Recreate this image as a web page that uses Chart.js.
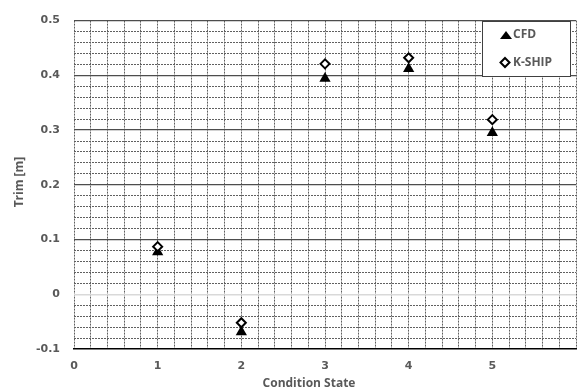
<!DOCTYPE html>
<html>
<head>
<meta charset="utf-8">
<script src="https://cdn.jsdelivr.net/npm/chart.js"></script>
<style>
html,body{margin:0;padding:0;background:#fff;}
#wrap{width:587px;height:392px;position:relative;}
</style>
</head>
<body>
<div id="wrap"><canvas id="c" width="587" height="392"></canvas></div>
<script>
// ---- data ----
const conditionStates = [1, 2, 3, 4, 5];
const cfdTrim = [0.077, -0.069, 0.394, 0.412, 0.295];
const kshipTrim = [0.087, -0.052, 0.421, 0.432, 0.319];
const seriesNames = ['CFD', 'K-SHIP'];
const xTickLabels = ['0', '1', '2', '3', '4', '5'];
const yTickLabels = ['-0.1', '0', '0.1', '0.2', '0.3', '0.4', '0.5'];
const xTitle = 'Condition State';
const yTitle = 'Trim [m]';

const toPts = (xs, ys) => xs.map((x, i) => ({x: x, y: ys[i]}));
const isMult = (v, step) => Math.abs(v / step - Math.round(v / step)) < 1e-6;

const TEXT = '#595959';
const GRID = '#606060';
const tickFont = {family: 'DejaVu Sans', size: 11, weight: 'bold'};

const overlay = {
  id: 'overlay',
  afterDraw(chart) {
    const ctx = chart.ctx;
    ctx.save();
    // axis titles
    ctx.fillStyle = TEXT;
    ctx.font = 'bold 12px "Open Sans"';
    ctx.textAlign = 'center';
    ctx.textBaseline = 'middle';
    ctx.fillText(xTitle, 309, 384);
    ctx.save();
    ctx.translate(20, 182);
    ctx.rotate(-Math.PI / 2);
    ctx.fillText(yTitle, 0, 0);
    ctx.restore();
    // legend box
    ctx.fillStyle = '#fff';
    ctx.fillRect(482.5, 21.5, 88, 55);
    ctx.strokeStyle = '#404040';
    ctx.lineWidth = 1;
    ctx.strokeRect(482.5, 21.5, 88, 55);
    // triangle marker
    ctx.fillStyle = '#000';
    ctx.beginPath();
    ctx.moveTo(506, 31);
    ctx.lineTo(512, 39);
    ctx.lineTo(500, 39);
    ctx.closePath();
    ctx.fill();
    // diamond marker
    ctx.beginPath();
    ctx.moveTo(505, 58);
    ctx.lineTo(509.5, 62.5);
    ctx.lineTo(505, 67);
    ctx.lineTo(500.5, 62.5);
    ctx.closePath();
    ctx.fillStyle = '#fff';
    ctx.fill();
    ctx.lineWidth = 2;
    ctx.strokeStyle = '#000';
    ctx.stroke();
    ctx.fillStyle = TEXT;
    ctx.font = 'bold 12px "Open Sans"';
    ctx.textAlign = 'left';
    ctx.fillText(seriesNames[0], 513, 35);
    ctx.fillText(seriesNames[1], 513, 62.5);
    ctx.restore();
  }
};

new Chart(document.getElementById('c'), {
  type: 'scatter',
  data: {
    datasets: [
      {
        label: seriesNames[0],
        data: toPts(conditionStates, cfdTrim),
        pointStyle: 'triangle',
        pointRadius: 6.5,
        pointHoverRadius: 6.5,
        backgroundColor: '#000',
        borderColor: '#000',
        borderWidth: 0,
        order: 2
      },
      {
        label: seriesNames[1],
        data: toPts(conditionStates, kshipTrim),
        pointStyle: 'rectRot',
        pointRadius: 4.5,
        pointHoverRadius: 4.5,
        backgroundColor: '#fff',
        borderColor: '#000',
        borderWidth: 2,
        order: 1
      }
    ]
  },
  options: {
    responsive: false,
    animation: false,
    events: [],
    layout: {padding: {top: 14, right: 1, left: 0, bottom: 0}},
    plugins: {legend: {display: false}, tooltip: {enabled: false}},
    scales: {
      x: {
        type: 'linear',
        min: 0, max: 6,
        afterFit: s => { s.height = 43; },
        ticks: {
          stepSize: 0.2,
          autoSkip: false,
          maxRotation: 0,
          padding: 11,
          color: TEXT,
          font: tickFont,
          callback: v => {
            const r = Math.round(v * 1000) / 1000;
            return Number.isInteger(r) && xTickLabels[r] !== undefined ? xTickLabels[r] : '';
          }
        },
        grid: {color: GRID, lineWidth: 1, drawTicks: false},
        border: {display: true, color: '#000', width: 1.5, dash: [2, 1]}
      },
      y2: {
        type: 'linear',
        position: 'left',
        min: -0.1, max: 0.5,
        z: -1,
        afterFit: s => { s.width = 0; },
        ticks: {stepSize: 0.02, display: false},
        grid: {
          drawTicks: false,
          lineWidth: 1,
          color: c => isMult(c.tick.value, 0.1) ? 'rgba(0,0,0,0)' : GRID
        },
        border: {display: false, dash: [2, 1]}
      },
      y: {
        type: 'linear',
        position: 'left',
        min: -0.1, max: 0.5,
        afterFit: s => { s.width = 74; },
        ticks: {
          stepSize: 0.1, padding: 14, color: TEXT, font: tickFont,
          callback: v => yTickLabels[Math.round(v * 10) + 1]
        },
        grid: {
          drawTicks: false,
          lineWidth: c => Math.abs(c.tick.value) < 1e-6 ? 1.5 : 1.25,
          color: c => {
            const v = c.tick.value;
            if (Math.abs(v) < 1e-6) return '#d9d9d9';
            if (Math.abs(v + 0.1) < 1e-6) return 'rgba(0,0,0,0)';
            return '#4d4d4d';
          }
        },
        border: {display: false}
      }
    }
  },
  plugins: [overlay]
});
</script>
</body>
</html>
